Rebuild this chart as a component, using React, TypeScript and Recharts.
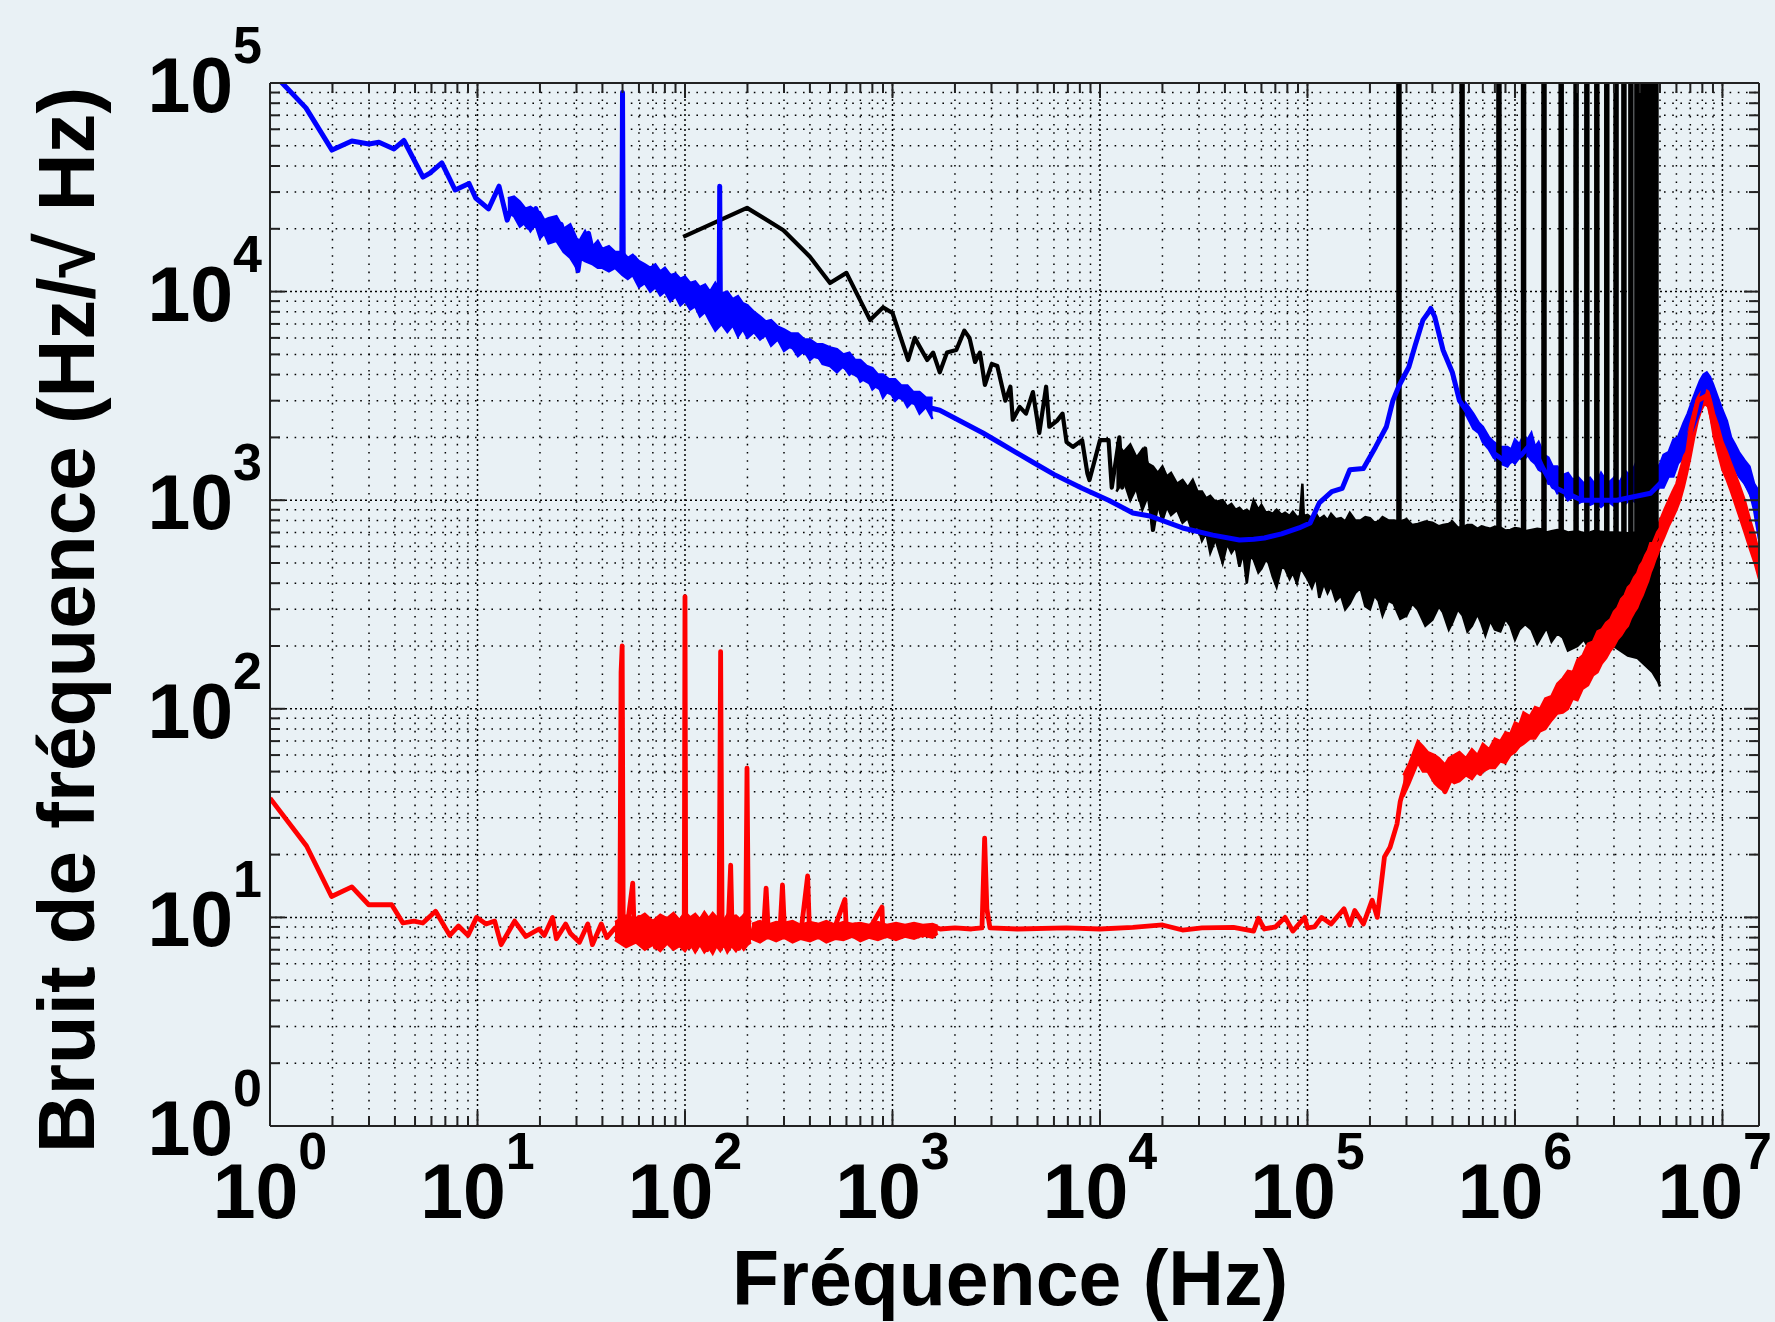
import React from 'react';
import { ComposedChart, Line, Area, XAxis, YAxis, ReferenceLine } from 'recharts';

const BG = '#e9f1f5';
const FONT = '"Liberation Sans", Arial, Helvetica, sans-serif';
const PAGE_W = 1775;

// axis ticks
const xDecades = [1, 10, 100, 1e3, 1e4, 1e5, 1e6, 1e7];
const yDecades = [1, 10, 100, 1e3, 1e4, 1e5];
const minorSteps = [2, 3, 4, 5, 6, 7, 8, 9];
const X_DOMAIN = [1, 1.5e7];
const Y_DOMAIN = [1, 1e5];

const xMinor = xDecades.flatMap((d) => minorSteps.map((m) => m * d)).filter((v) => v < X_DOMAIN[1]);
const yMinor = yDecades.slice(0, -1).flatMap((d) => minorSteps.map((m) => m * d));
const xTicks = [...xDecades, ...xMinor].sort((a, b) => a - b);
const yTicks = [...yDecades, ...yMinor].sort((a, b) => a - b);

// blue trace [Hz, value]
const blueLine = [
  [1, 1.15e5], [1.49, 7.6e4], [1.99, 4.77e4], [2.48, 5.27e4], [3.0, 5.1e4], [3.35, 5.2e4],
  [3.96, 4.83e4], [4.42, 5.3e4], [5.46, 3.54e4], [5.9, 3.7e4], [6.73, 4.14e4], [7.8, 3.07e4],
  [9.1, 3.3e4], [9.8, 2.81e4], [11.3, 2.49e4], [12.7, 3.2e4], [13.9, 2.2e4], [15.1, 2.75e4],
  [16.2, 2.3e4], [17.5, 2.04e4], [19.1, 2.5e4], [20.5, 1.95e4], [22.6, 1.9e4], [25.3, 2.1e4],
  [27, 1.7e4], [29.2, 1.58e4], [30.5, 1.26e4], [32, 1.75e4], [34.3, 1.9e4], [36.5, 1.45e4],
  [39, 1.42e4], [42, 1.6e4], [45, 1.35e4], [48, 1.5e4], [49.6, 1.4e4], [50, 9e4], [50.4, 1.45e4],
  [53, 1.3e4], [57, 1.45e4], [62, 1.2e4], [68, 1.15e4], [75, 1.2e4], [82, 1.05e4], [90, 1.1e4],
  [100, 1.0e4], [112, 9.5e3], [125, 9.8e3], [138, 8.5e3], [146, 9e3], [147, 3.2e4], [148, 9.5e3],
  [160, 8e3], [180, 7.8e3], [200, 7.2e3], [250, 6.4e3], [320, 5.5e3], [400, 5.0e3], [540, 4.6e3],
  [700, 3.9e3], [900, 3.4e3], [1200, 3.0e3], [1560, 2.75e3], [1690, 2.7e3], [2200, 2.35e3],
  [2730, 2.1e3], [3300, 1.88e3], [4750, 1.52e3], [6000, 1.33e3], [8200, 1.14e3], [1.1e4, 1.0e3],
  [1.44e4, 869], [1.74e4, 840], [2.5e4, 736], [3.5e4, 680], [4.7e4, 645], [5.5e4, 650],
  [6.2e4, 659], [7.5e4, 690], [9.1e4, 736], [1.03e5, 778], [1.14e5, 970], [1.31e5, 1.1e3],
  [1.47e5, 1.14e3], [1.6e5, 1.4e3], [1.86e5, 1.42e3], [2.13e5, 1.8e3], [2.4e5, 2.25e3],
  [2.58e5, 3.0e3], [2.75e5, 3.5e3], [3.08e5, 4.35e3], [3.3e5, 5.5e3], [3.6e5, 7.3e3],
  [3.85e5, 8.0e3], [3.93e5, 8.3e3], [4.1e5, 7.6e3], [4.5e5, 5.25e3], [5.0e5, 4.08e3],
  [5.4e5, 3.0e3], [6.3e5, 2.4e3], [7.9e5, 1.68e3], [9.2e5, 1.51e3], [1.07e6, 1.64e3],
  [1.2e6, 1.88e3], [1.35e6, 1.45e3], [1.53e6, 1.16e3], [2.1e6, 1.0e3], [3.1e6, 1.0e3],
  [4.5e6, 1.08e3], [5.4e6, 1.3e3], [6.5e6, 1.75e3], [7.7e6, 2.7e3], [8.4e6, 3.94e3],
  [1.0e7, 2.4e3], [1.14e7, 1.56e3], [1.3e7, 1.2e3], [1.5e7, 900],
];

// blue noisy spread [Hz, low, high]
const blueBandLow = [
  [14, 2.4e4, 2.8e4], [15, 2.3e4, 2.85e4], [16, 2.05e4, 2.7e4], [17, 2.15e4, 2.5e4], [18, 1.95e4, 2.55e4],
  [19, 2.1e4, 2.45e4], [20, 1.8e4, 2.4e4], [21, 1.9e4, 2.2e4], [22, 1.7e4, 2.25e4], [24, 1.75e4, 2.3e4],
  [26, 1.55e4, 2.0e4], [28, 1.45e4, 2.1e4], [30, 1.3e4, 1.8e4], [31, 1.45e4, 1.75e4], [33, 1.4e4, 1.95e4],
  [36, 1.35e4, 1.65e4], [38, 1.3e4, 1.75e4], [40, 1.3e4, 1.6e4], [43, 1.25e4, 1.65e4], [46, 1.3e4, 1.55e4],
  [50, 1.2e4, 1.55e4], [53, 1.15e4, 1.45e4], [56, 1.2e4, 1.5e4], [60, 1.05e4, 1.4e4], [64, 1.1e4, 1.35e4],
  [68, 1.0e4, 1.3e4], [72, 1.05e4, 1.35e4], [76, 9.6e3, 1.25e4], [80, 1.0e4, 1.3e4], [85, 9.0e3, 1.2e4],
  [90, 9.5e3, 1.22e4], [95, 8.6e3, 1.15e4], [100, 9.0e3, 1.18e4], [106, 8.2e3, 1.1e4], [112, 8.5e3, 1.12e4],
  [118, 7.6e3, 1.05e4], [125, 8.0e3, 1.08e4], [132, 7.2e3, 1.0e4], [140, 6.5e3, 1.1e4], [150, 7.0e3, 9.8e3],
  [160, 6.4e3, 1.0e4], [170, 6.9e3, 9.2e3], [180, 6.1e3, 9.5e3], [190, 6.6e3, 8.8e3], [200, 6.0e3, 8.6e3],
  [215, 6.4e3, 8.0e3], [230, 5.9e3, 7.6e3], [245, 6.2e3, 7.2e3], [260, 5.5e3, 7.3e3], [280, 5.9e3, 6.8e3],
  [300, 5.2e3, 6.6e3], [325, 5.5e3, 6.3e3], [350, 4.9e3, 6.3e3], [375, 5.2e3, 5.9e3], [400, 4.7e3, 5.9e3],
  [430, 5.0e3, 5.6e3], [460, 4.5e3, 5.6e3], [500, 4.4e3, 5.4e3], [540, 4.1e3, 5.3e3], [580, 4.4e3, 5.0e3],
  [620, 4.0e3, 5.1e3], [660, 4.2e3, 4.7e3], [700, 3.7e3, 4.7e3], [750, 3.9e3, 4.4e3], [800, 3.4e3, 4.3e3],
  [850, 3.6e3, 4.0e3], [900, 3.1e3, 4.0e3], [960, 3.4e3, 3.8e3], [1030, 3.0e3, 3.8e3], [1100, 3.2e3, 3.55e3],
  [1180, 2.8e3, 3.55e3], [1260, 3.0e3, 3.3e3], [1350, 2.6e3, 3.3e3], [1450, 2.8e3, 3.1e3], [1560, 2.45e3, 3.1e3],
];
const blueBandHigh = [
  [5.5e5, 2.8e3, 3.1e3], [5.9e5, 2.5e3, 2.85e3], [6.3e5, 2.2e3, 2.6e3], [6.7e5, 2.1e3, 2.35e3],
  [7e5, 1.9e3, 2.25e3], [7.5e5, 1.75e3, 2.0e3], [7.9e5, 1.6e3, 1.9e3], [8.5e5, 1.5e3, 1.8e3],
  [9.2e5, 1.45e3, 1.8e3], [9.6e5, 1.55e3, 1.75e3], [1.0e6, 1.5e3, 1.95e3], [1.05e6, 1.6e3, 1.85e3],
  [1.1e6, 1.55e3, 2.05e3], [1.15e6, 1.65e3, 1.95e3], [1.2e6, 1.55e3, 2.1e3], [1.25e6, 1.5e3, 1.8e3],
  [1.3e6, 1.4e3, 1.9e3], [1.38e6, 1.35e3, 1.65e3], [1.45e6, 1.2e3, 1.6e3], [1.52e6, 1.2e3, 1.45e3],
  [1.6e6, 1.08e3, 1.45e3], [1.7e6, 1.1e3, 1.32e3], [1.8e6, 1.0e3, 1.35e3], [1.9e6, 1.04e3, 1.25e3],
  [2.0e6, 960, 1.3e3], [2.15e6, 1.0e3, 1.2e3], [2.3e6, 950, 1.28e3], [2.45e6, 980, 1.18e3],
  [2.6e6, 930, 1.35e3], [2.8e6, 990, 1.2e3], [3.0e6, 940, 1.28e3], [3.2e6, 1.0e3, 1.22e3],
  [3.4e6, 960, 1.38e3], [3.6e6, 1.02e3, 1.3e3], [3.8e6, 980, 1.48e3], [4.0e6, 1.05e3, 1.32e3],
  [4.2e6, 1.0e3, 1.45e3], [4.45e6, 1.08e3, 1.38e3], [4.7e6, 1.05e3, 1.5e3], [4.95e6, 1.15e3, 1.45e3],
  [5.2e6, 1.15e3, 1.65e3], [5.5e6, 1.3e3, 1.7e3], [5.8e6, 1.3e3, 1.95e3], [6.1e6, 1.5e3, 2.0e3],
  [6.5e6, 1.6e3, 2.35e3], [6.8e6, 1.9e3, 2.6e3], [7.2e6, 2.2e3, 3.05e3], [7.5e6, 2.6e3, 3.4e3],
  [7.8e6, 2.9e3, 3.75e3], [8.1e6, 3.2e3, 4.0e3], [8.4e6, 3.3e3, 4.1e3], [8.7e6, 3.0e3, 3.9e3],
  [9.0e6, 2.6e3, 3.6e3], [9.5e6, 2.3e3, 3.1e3], [1.0e7, 2.0e3, 2.7e3], [1.05e7, 1.7e3, 2.4e3],
  [1.1e7, 1.5e3, 2.0e3], [1.15e7, 1.4e3, 1.85e3], [1.2e7, 1.3e3, 1.7e3], [1.28e7, 1.2e3, 1.55e3],
  [1.35e7, 1.1e3, 1.45e3], [1.42e7, 900, 1.2e3], [1.5e7, 650, 1.1e3],
];

// black trace
const blackLine = [
  [98, 1.83e4], [199, 2.52e4], [298, 1.97e4], [400, 1.47e4], [500, 1.10e4], [600, 1.23e4],
  [780, 7.3e3], [900, 8.4e3], [1000, 7.9e3], [1190, 4.7e3], [1280, 6.0e3], [1470, 4.7e3],
  [1570, 5.1e3], [1690, 4.1e3], [1830, 5.1e3], [2030, 5.25e3], [2220, 6.5e3], [2350, 6.0e3],
  [2500, 4.6e3], [2640, 5.1e3], [2790, 3.57e3], [3010, 4.5e3], [3200, 4.4e3], [3500, 3.0e3],
  [3700, 3.5e3], [3800, 2.43e3], [4100, 2.8e3], [4400, 2.6e3], [4750, 3.3e3], [5100, 2.1e3],
  [5500, 3.5e3], [5700, 2.25e3], [6200, 2.4e3], [6600, 2.6e3], [6900, 1.9e3], [7400, 1.8e3],
  [8200, 1.94e3], [8700, 1.34e3], [8900, 1.25e3], [1.0e4, 1.94e3], [1.1e4, 1.94e3], [1.14e4, 1.15e3],
  [1.24e4, 2.0e3], [1.28e4, 1.15e3], [1.4e4, 1.6e3], [1.56e4, 1.0e3], [1.65e4, 1.77e3], [1.8e4, 720],
  [2.0e4, 1.43e3],
];
const blackBand = [
  [1.2e4, 1.1e3, 1.9e3], [1.3e4, 1.25e3, 1.7e3], [1.4e4, 1.0e3, 1.85e3], [1.5e4, 1.15e3, 1.6e3],
  [1.6e4, 900, 1.75e3], [1.7e4, 1.05e3, 1.5e3], [1.8e4, 720, 1.45e3], [1.9e4, 950, 1.35e3],
  [2.0e4, 800, 1.45e3], [2.1e4, 930, 1.3e3], [2.2e4, 850, 1.35e3], [2.35e4, 900, 1.2e3],
  [2.5e4, 780, 1.25e3], [2.65e4, 820, 1.15e3], [2.8e4, 700, 1.25e3], [2.95e4, 760, 1.1e3],
  [3.1e4, 640, 1.1e3], [3.25e4, 700, 1.02e3], [3.4e4, 560, 1.05e3], [3.6e4, 650, 980],
  [3.9e4, 500, 1.0e3], [4.1e4, 620, 930], [4.3e4, 560, 960], [4.5e4, 600, 900], [4.7e4, 480, 920],
  [4.9e4, 560, 880], [5.1e4, 400, 900], [5.3e4, 540, 870], [5.5e4, 520, 1.0e3], [5.8e4, 450, 900],
  [6.0e4, 470, 950], [6.3e4, 520, 870], [6.5e4, 500, 880], [6.8e4, 430, 860], [7.1e4, 384, 900],
  [7.5e4, 480, 850], [7.8e4, 470, 870], [8.2e4, 420, 840], [8.5e4, 450, 880], [8.9e4, 400, 830],
  [9.2e4, 460, 840], [9.45e4, 460, 1.2e3], [9.6e4, 450, 840], [1.0e5, 420, 850], [1.05e5, 380, 820],
  [1.1e5, 430, 860], [1.14e5, 340, 810], [1.2e5, 400, 840], [1.25e5, 360, 800], [1.3e5, 390, 860],
  [1.37e5, 330, 810], [1.45e5, 350, 820], [1.52e5, 300, 790], [1.6e5, 320, 870], [1.7e5, 360, 800],
  [1.8e5, 380, 800], [1.9e5, 310, 830], [2.0e5, 300, 820], [2.1e5, 350, 780], [2.2e5, 330, 790],
  [2.3e5, 280, 830], [2.45e5, 330, 800], [2.6e5, 320, 800], [2.8e5, 270, 790], [3.0e5, 280, 810],
  [3.2e5, 320, 760], [3.4e5, 300, 770], [3.7e5, 250, 790], [4.0e5, 267, 780], [4.3e5, 310, 750],
  [4.5e5, 290, 760], [4.8e5, 240, 770], [5.0e5, 260, 790], [5.3e5, 300, 740], [5.6e5, 280, 740],
  [5.9e5, 235, 760], [6.2e5, 250, 760], [6.6e5, 285, 730], [6.9e5, 256, 750], [7.2e5, 225, 740],
  [7.6e5, 265, 730], [8.0e5, 240, 745], [8.5e5, 235, 740], [9.0e5, 270, 715], [9.5e5, 250, 720],
  [1.0e6, 215, 735], [1.05e6, 240, 730], [1.12e6, 255, 710], [1.2e6, 240, 720], [1.28e6, 205, 730],
  [1.35e6, 225, 725], [1.42e6, 245, 700], [1.5e6, 210, 710], [1.6e6, 230, 720], [1.7e6, 220, 715],
  [1.8e6, 190, 700], [2.0e6, 200, 710], [2.15e6, 215, 695], [2.3e6, 190, 700], [2.45e6, 205, 715],
  [2.6e6, 210, 705], [2.8e6, 210, 700], [3.1e6, 195, 700], [3.5e6, 180, 695], [3.9e6, 175, 700],
  [4.3e6, 160, 700], [4.6e6, 150, 720], [4.9e6, 135, 700], [5.0e6, 128, 690],
];
// harmonic lines of the black trace (Hz)
const blackSpikeFreqs = [
  2.76e5, 5.56e5, 8.37e5, 1.10e6, 1.38e6, 1.67e6, 1.97e6, 2.22e6, 2.48e6, 2.77e6, 3.07e6,
  3.35e6, 3.62e6, 3.87e6, 4.09e6, 4.2e6, 4.33e6, 4.45e6, 4.57e6, 4.78e6,
];
const SPIKE_BASE = 650;
const SPIKE_TOP = 3e5;

// red trace
const redLine = [
  [1, 37.3], [1.5, 22], [1.98, 12.6], [2.48, 14.0], [2.99, 11.5], [3.86, 11.5], [4.37, 9.4],
  [4.94, 9.6], [5.45, 9.4], [6.28, 10.7], [7.35, 8.2], [8.1, 9.1], [9.0, 8.2], [9.9, 10.0],
  [11, 9.3], [12.1, 9.6], [13.0, 7.4], [15.1, 9.6], [17.1, 8.1], [19.8, 8.8], [21, 8.2],
  [23.0, 10.0], [24.0, 7.9], [26.6, 9.3], [28, 8.4], [31, 7.6], [34, 9.3], [35.8, 7.4],
  [39.5, 9.3], [42, 8.0], [46, 8.9], [48.5, 8.3], [49.2, 150], [49.8, 200], [50.4, 9], [52, 8.2],
  [54, 11], [56, 14.6], [57, 8], [60, 10], [64, 7.5], [68, 9.5], [72, 7.2], [76, 9.6], [80, 7.6],
  [85, 9.8], [90, 7.3], [95, 9.4], [99.2, 10], [100, 345], [100.8, 9.5], [105, 7.2], [110, 9.8],
  [116, 7.5], [122, 9.6], [128, 7.0], [134, 9.9], [140, 7.4], [146, 9.4], [148.5, 188], [151, 9],
  [156, 7.3], [162, 9.7], [166, 17.8], [169, 8], [175, 9.9], [182, 7.1], [190, 9.5], [196, 7.6],
  [199, 52], [202, 9.2], [210, 8.0], [225, 9.4], [238, 8.1], [246, 13.8], [252, 8.6], [270, 9.0],
  [286, 8.2], [295, 14.3], [302, 8.5], [330, 9.3], [360, 8.1], [390, 15.8], [398, 8.6], [430, 9.2],
  [480, 8.3], [530, 9.1], [590, 12.2], [600, 8.5], [660, 9.2], [720, 8.0], [800, 9.3], [890, 11.2],
  [900, 8.2], [1000, 9.1], [1100, 8.1], [1250, 9.2], [1400, 8.2], [1560, 9.1], [1700, 8.8],
  [2000, 8.9], [2400, 8.8], [2700, 8.9], [2780, 24], [2850, 11], [2950, 8.9], [4000, 8.8],
  [6900, 8.9], [1e4, 8.8], [1.44e4, 8.95], [2.0e4, 9.2], [2.5e4, 8.7], [3.1e4, 8.9], [4.4e4, 8.95],
  [5.5e4, 8.6], [5.8e4, 9.9], [6.2e4, 8.8], [7.0e4, 9.0], [7.8e4, 10.0], [8.5e4, 8.6], [9.7e4, 10.0],
  [1.0e5, 8.9], [1.08e5, 9.0], [1.17e5, 10.0], [1.3e5, 9.3], [1.5e5, 11.0], [1.6e5, 9.2],
  [1.69e5, 10.8], [1.86e5, 9.3], [2.05e5, 12.1], [2.17e5, 10.0], [2.35e5, 19.5], [2.5e5, 21.7],
  [2.7e5, 28], [2.8e5, 36], [3.0e5, 46], [3.4e5, 65.6], [3.6e5, 61], [4.3e5, 49], [4.6e5, 40],
  [5.4e5, 57], [6.8e5, 49], [7.4e5, 61], [9.3e5, 66], [1.13e6, 88], [1.42e6, 88], [1.62e6, 119],
  [2.0e6, 124], [2.25e6, 170], [2.7e6, 231], [3.3e6, 275], [3.7e6, 359], [4.0e6, 448], [4.6e6, 597],
  [4.9e6, 697], [5.4e6, 804], [6.0e6, 1000], [6.5e6, 1.25e3], [7.0e6, 2.1e3], [7.6e6, 3.0e3],
  [8.4e6, 3.17e3], [9.1e6, 2.25e3], [1.06e7, 1.45e3], [1.2e7, 1.0e3], [1.36e7, 645], [1.5e7, 462],
];
const redBandLow = [
  [46, 7.8, 9.5], [52, 7.2, 10.2], [58, 7.6, 9.8], [64, 7.0, 10.4], [70, 7.4, 9.6], [76, 6.9, 10.3],
  [82, 7.5, 9.9], [88, 7.0, 10.5], [94, 7.3, 9.7], [100, 6.9, 10.6], [106, 7.5, 10.0], [112, 6.8, 10.4],
  [118, 7.4, 9.8], [124, 6.8, 10.6], [130, 7.2, 9.9], [136, 6.7, 10.5], [142, 7.3, 10.0], [148, 6.9, 10.4],
  [154, 7.4, 9.7], [160, 6.8, 10.3], [168, 7.3, 10.1], [176, 6.9, 10.2], [184, 7.4, 9.8], [192, 7.0, 10.3],
  [200, 7.4, 9.9], [208, 7.6, 9.5],
];
const redBandMid = [
  [210, 7.9, 9.3], [230, 7.6, 9.6], [250, 8.0, 9.2], [275, 7.7, 9.5], [300, 8.0, 9.4], [330, 7.6, 9.6],
  [360, 7.9, 9.2], [400, 7.7, 9.5], [440, 8.0, 9.3], [480, 7.6, 9.6], [530, 7.9, 9.2], [580, 7.8, 9.5],
  [640, 8.1, 9.3], [700, 7.7, 9.4], [770, 8.0, 9.2], [850, 7.8, 9.5], [940, 8.1, 9.2], [1040, 7.8, 9.4],
  [1150, 8.1, 9.2], [1270, 7.9, 9.4], [1400, 8.2, 9.2], [1560, 8.0, 9.3], [1650, 8.4, 9.1],
];
const redBandHigh = [
  [2.9e5, 38, 48], [3.1e5, 44, 55], [3.4e5, 55, 70], [3.6e5, 50, 66], [3.8e5, 50, 62], [4.1e5, 44, 60],
  [4.3e5, 42, 58], [4.6e5, 40, 54], [4.8e5, 46, 58], [5.1e5, 44, 60], [5.4e5, 45, 62], [5.8e5, 48, 58],
  [6.2e5, 46, 64], [6.6e5, 50, 60], [7e5, 50, 68], [7.5e5, 52, 64], [8e5, 52, 72], [8.5e5, 56, 70],
  [9e5, 55, 77], [9.5e5, 60, 76], [1.0e6, 62, 86], [1.05e6, 66, 84], [1.1e6, 68, 96], [1.18e6, 72, 92],
  [1.25e6, 72, 102], [1.32e6, 78, 100], [1.4e6, 80, 112], [1.5e6, 88, 115], [1.6e6, 95, 132],
  [1.7e6, 96, 140], [1.8e6, 100, 152], [1.9e6, 112, 150], [2e6, 110, 172], [2.12e6, 125, 180],
  [2.25e6, 130, 205], [2.38e6, 145, 210], [2.5e6, 150, 235], [2.62e6, 165, 240], [2.75e6, 175, 258],
  [2.88e6, 190, 268], [3e6, 200, 292], [3.12e6, 215, 305], [3.25e6, 225, 335], [3.38e6, 240, 350],
  [3.5e6, 250, 382], [3.62e6, 272, 395], [3.75e6, 290, 425], [3.88e6, 305, 445], [4e6, 330, 485],
  [4.12e6, 350, 505], [4.25e6, 380, 545], [4.38e6, 410, 575], [4.5e6, 450, 625], [4.62e6, 480, 655],
  [4.75e6, 520, 705], [4.88e6, 555, 745], [5e6, 600, 800], [5.25e6, 670, 900], [5.5e6, 750, 1000],
  [5.75e6, 820, 1100], [6e6, 900, 1200], [6.25e6, 1.0e3, 1.4e3], [6.5e6, 1.15e3, 1.6e3],
  [6.75e6, 1.35e3, 1.95e3], [7e6, 1.6e3, 2.3e3], [7.3e6, 2.0e3, 2.7e3], [7.6e6, 2.4e3, 3.1e3],
  [7.9e6, 2.7e3, 3.3e3], [8.2e6, 2.9e3, 3.4e3], [8.6e6, 2.8e3, 3.3e3], [9.1e6, 2.0e3, 2.6e3],
  [9.5e6, 1.7e3, 2.3e3], [1.0e7, 1.4e3, 1.9e3], [1.05e7, 1.25e3, 1.7e3], [1.1e7, 1.1e3, 1.5e3],
  [1.2e7, 850, 1.2e3], [1.28e7, 700, 1.0e3], [1.36e7, 580, 800], [1.43e7, 500, 680], [1.5e7, 420, 560],
];

const pts = (arr: number[][]) => arr.map(([f, v]) => ({ f, v }));
const band = (arr: number[][]) => arr.map(([f, lo, hi]) => ({ f, lo, hi }));
const spikeRows = blackSpikeFreqs.flatMap((f) => [
  { f, v: SPIKE_BASE },
  { f, v: SPIKE_TOP },
  { f, v: SPIKE_BASE },
]);

const isDecade = (v: number) => Math.abs(Math.log10(v) - Math.round(Math.log10(v))) < 1e-9;
const expOf = (v: number) => Math.round(Math.log10(v));

const TICK = '#222';
const labelStyle = { fontFamily: FONT, fontWeight: 700, fontSize: 77, fill: '#000' } as const;

function BottomTick(p: any) {
  const v = p.payload.value;
  const major = isDecade(v);
  // the last label would run off the page: pin it to the right edge
  const nearEdge = p.x + 60 > PAGE_W;
  return (
    <g>
      <line x1={p.x} y1={p.y} x2={p.x} y2={p.y - (major ? 15 : 10)} stroke={TICK} strokeWidth={2} />
      {major && (
        <text
          x={nearEdge ? PAGE_W - 3 : p.x}
          y={p.y + 92}
          textAnchor={nearEdge ? 'end' : 'middle'}
          style={labelStyle}
        >
          10
          <tspan dy={-49} fontSize={52}>{expOf(v)}</tspan>
        </text>
      )}
    </g>
  );
}

function TopTick(p: any) {
  const major = isDecade(p.payload.value);
  return <line x1={p.x} y1={p.y} x2={p.x} y2={p.y + (major ? 15 : 10)} stroke={TICK} strokeWidth={2} />;
}

function LeftTick(p: any) {
  const v = p.payload.value;
  const major = isDecade(v);
  return (
    <g>
      <line x1={p.x} y1={p.y} x2={p.x + (major ? 15 : 10)} y2={p.y} stroke={TICK} strokeWidth={2} />
      {major && (
        <text x={p.x - 8} y={p.y + 29} textAnchor="end" style={labelStyle}>
          10
          <tspan dy={-49} fontSize={52}>{expOf(v)}</tspan>
        </text>
      )}
    </g>
  );
}

function RightTick(p: any) {
  const major = isDecade(p.payload.value);
  return <line x1={p.x} y1={p.y} x2={p.x - (major ? 15 : 10)} y2={p.y} stroke={TICK} strokeWidth={2} />;
}

const axisLine = { stroke: '#222', strokeWidth: 2 };

function bandArea(rows: number[][], color: string, key: string) {
  return (
    <Area
      key={key}
      data={band(rows)}
      xAxisId="bottom"
      yAxisId="left"
      dataKey={(d: any) => [d.lo, d.hi]}
      type="linear"
      stroke={color}
      strokeWidth={2.5}
      fill={color}
      fillOpacity={1}
      dot={false}
      activeDot={false}
      isAnimationActive={false}
    />
  );
}

function trace(rows: { f: number; v: number }[], color: string, width: number, key: string) {
  return (
    <Line
      key={key}
      data={rows}
      xAxisId="bottom"
      yAxisId="left"
      dataKey="v"
      type="linear"
      stroke={color}
      strokeWidth={width}
      strokeLinejoin="round"
      dot={false}
      activeDot={false}
      isAnimationActive={false}
    />
  );
}

export default function App() {
  return (
    <div style={{ position: 'relative', width: PAGE_W, height: 1322, background: BG, fontFamily: FONT }}>
      <style>{`body{margin:0;background:${BG};}`}</style>
      <ComposedChart width={PAGE_W} height={1322} margin={{ top: 73, right: 6, bottom: 96, left: 170 }}>
        <XAxis
          xAxisId="bottom"
          type="number"
          dataKey="f"
          scale="log"
          domain={X_DOMAIN}
          allowDataOverflow
          ticks={xTicks}
          interval={0}
          height={100}
          tickSize={0}
          tickMargin={0}
          tickLine={false}
          axisLine={axisLine}
          tick={(p: any) => <BottomTick {...p} />}
        />
        <XAxis
          xAxisId="top"
          orientation="top"
          type="number"
          dataKey="f"
          scale="log"
          domain={X_DOMAIN}
          allowDataOverflow
          ticks={xTicks}
          interval={0}
          height={10}
          tickSize={0}
          tickMargin={0}
          tickLine={false}
          axisLine={axisLine}
          tick={(p: any) => <TopTick {...p} />}
        />
        <YAxis
          yAxisId="left"
          type="number"
          scale="log"
          domain={Y_DOMAIN}
          allowDataOverflow
          ticks={yTicks}
          interval={0}
          width={100}
          tickSize={0}
          tickMargin={0}
          tickLine={false}
          axisLine={axisLine}
          tick={(p: any) => <LeftTick {...p} />}
        />
        <YAxis
          yAxisId="right"
          orientation="right"
          type="number"
          scale="log"
          domain={Y_DOMAIN}
          allowDataOverflow
          ticks={yTicks}
          interval={0}
          width={10}
          tickSize={0}
          tickMargin={0}
          tickLine={false}
          axisLine={axisLine}
          tick={(p: any) => <RightTick {...p} />}
        />

        {xTicks.map((t) => (
          <ReferenceLine
            key={`gx${t}`}
            xAxisId="bottom"
            yAxisId="left"
            x={t}
            stroke="#000"
            strokeWidth={1.5}
            strokeDasharray={isDecade(t) ? '2 3' : '1.6 6.6'}
            zIndex={-50}
          />
        ))}
        {yTicks.map((t) => (
          <ReferenceLine
            key={`gy${t}`}
            xAxisId="bottom"
            yAxisId="left"
            y={t}
            stroke="#000"
            strokeWidth={1.5}
            strokeDasharray={isDecade(t) ? '2 3' : '1.6 6.6'}
            zIndex={-50}
          />
        ))}

        {bandArea(blackBand, '#000', 'blackBand')}
        {trace(spikeRows, '#000', 5.5, 'blackSpikes')}
        {trace(pts(blackLine), '#000', 4.2, 'blackLine')}

        {bandArea(blueBandLow, '#0000ff', 'blueBandLow')}
        {bandArea(blueBandHigh, '#0000ff', 'blueBandHigh')}
        {trace(pts(blueLine), '#0000ff', 5, 'blueLine')}

        {bandArea(redBandLow, '#ff0000', 'redBandLow')}
        {bandArea(redBandMid, '#ff0000', 'redBandMid')}
        {bandArea(redBandHigh, '#ff0000', 'redBandHigh')}
        {trace(pts(redLine), '#ff0000', 4.8, 'redLine')}
      </ComposedChart>

      <div
        style={{
          position: 'absolute',
          left: 510,
          top: 1253,
          width: 1000,
          textAlign: 'center',
          fontSize: 77,
          lineHeight: '50px',
          fontWeight: 700,
          color: '#000',
          whiteSpace: 'nowrap',
        }}
      >
        Fréquence (Hz)
      </div>
      <div
        style={{
          position: 'absolute',
          left: 67 - 600,
          top: 620 - 40,
          width: 1200,
          height: 80,
          textAlign: 'center',
          fontSize: 80,
          lineHeight: '80px',
          fontWeight: 700,
          color: '#000',
          whiteSpace: 'nowrap',
          transform: 'rotate(-90deg)',
        }}
      >
        Bruit de fréquence (Hz/√ Hz)
      </div>
    </div>
  );
}
